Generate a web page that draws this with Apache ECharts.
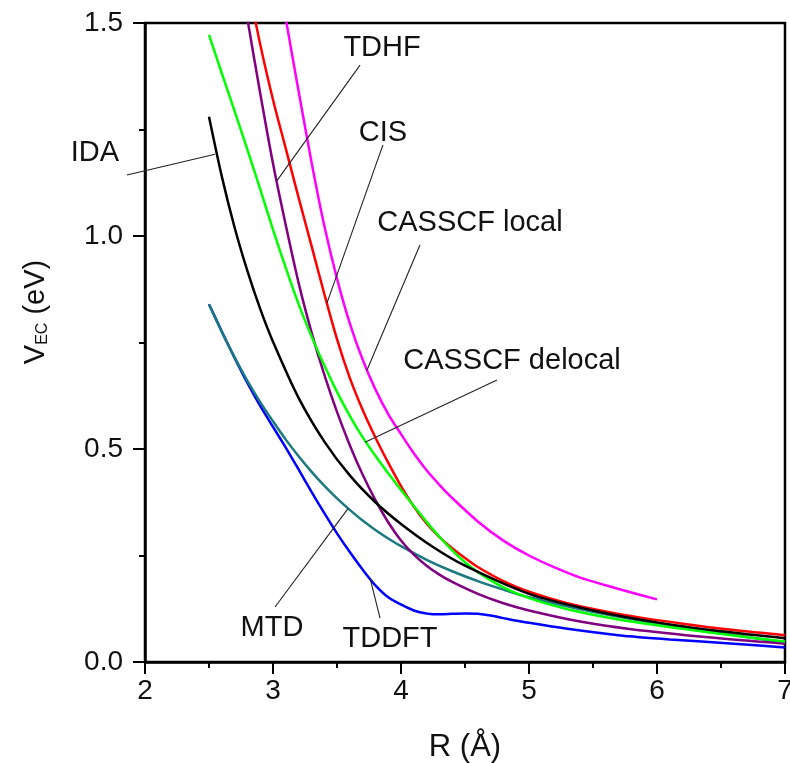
<!DOCTYPE html>
<html>
<head>
<meta charset="utf-8">
<script src="https://cdn.jsdelivr.net/npm/echarts@6/dist/echarts.min.js"></script>
<style>
  html, body { margin: 0; padding: 0; background: #fff; }
  #chart { width: 790px; height: 763px; }
</style>
</head>
<body>
<div id="chart"></div>
<script>
// ---- data (R in Å, V_EC in eV) ----
const xRange = [2, 7];
const yRange = [0, 1.5];

const IDA = [[2.5,1.28],[2.6,1.14],[2.7,1.02],[2.8,0.918],[2.9,0.829],[3.0,0.752],[3.2,0.62],[3.4,0.518],[3.6,0.438],[3.8,0.375],[4.0,0.324],[4.25,0.27],[4.5,0.226],[5.0,0.16],[5.5,0.121],[6.0,0.093],[6.5,0.072],[7.0,0.056]];
const TDHF = [[2.7,1.69],[2.8,1.51],[2.9,1.335],[3.0,1.17],[3.1,1.025],[3.2,0.89],[3.3,0.775],[3.4,0.675],[3.5,0.587],[3.6,0.509],[3.7,0.44],[3.8,0.38],[3.9,0.328],[4.0,0.285],[4.1,0.252],[4.2,0.226],[4.3,0.205],[4.4,0.188],[4.6,0.16],[4.8,0.138],[5.0,0.121],[5.4,0.095],[5.8,0.077],[6.4,0.058],[7.0,0.043]];
const CIS = [[2.7,1.76],[2.8,1.6],[2.9,1.45],[3.0,1.32],[3.1,1.205],[3.2,1.09],[3.3,0.978],[3.4,0.865],[3.5,0.758],[3.6,0.667],[3.7,0.592],[3.8,0.527],[3.9,0.468],[4.0,0.413],[4.1,0.365],[4.2,0.325],[4.3,0.293],[4.4,0.267],[4.5,0.244],[4.6,0.223],[4.8,0.19],[5.0,0.165],[5.3,0.138],[5.7,0.113],[6.2,0.09],[6.6,0.075],[7.0,0.063]];
const CASSCF_local = [[3.0,1.69],[3.1,1.51],[3.2,1.34],[3.3,1.175],[3.4,1.025],[3.5,0.9],[3.6,0.795],[3.7,0.71],[3.8,0.64],[3.9,0.582],[4.0,0.535],[4.1,0.49],[4.2,0.45],[4.3,0.416],[4.4,0.385],[4.6,0.33],[4.8,0.285],[5.0,0.25],[5.2,0.222],[5.4,0.198],[5.6,0.18],[5.8,0.163],[6.0,0.147]];
const CASSCF_delocal = [[2.5,1.472],[2.6,1.382],[2.7,1.293],[2.8,1.203],[2.9,1.11],[3.0,1.015],[3.1,0.925],[3.2,0.84],[3.3,0.765],[3.4,0.697],[3.5,0.634],[3.6,0.578],[3.7,0.528],[3.8,0.484],[3.9,0.443],[4.0,0.404],[4.1,0.366],[4.2,0.329],[4.3,0.294],[4.4,0.262],[4.5,0.234],[4.6,0.211],[4.8,0.175],[5.0,0.15],[5.3,0.124],[5.7,0.10],[6.2,0.078],[6.6,0.062],[7.0,0.048]];
const MTD = [[2.5,0.84],[2.6,0.775],[2.7,0.715],[2.8,0.66],[2.9,0.61],[3.0,0.565],[3.1,0.522],[3.2,0.483],[3.3,0.447],[3.4,0.414],[3.5,0.384],[3.6,0.357],[3.7,0.332],[3.8,0.31],[3.9,0.29],[4.0,0.272],[4.2,0.24],[4.4,0.213],[4.6,0.19],[4.8,0.17],[5.0,0.152],[5.4,0.124],[5.8,0.101],[6.4,0.072],[7.0,0.046]];
const TDDFT = [[2.5,0.84],[2.6,0.776],[2.7,0.714],[2.8,0.655],[2.9,0.601],[3.0,0.552],[3.1,0.503],[3.2,0.452],[3.3,0.4],[3.4,0.35],[3.5,0.302],[3.6,0.258],[3.7,0.217],[3.8,0.18],[3.9,0.152],[4.0,0.135],[4.1,0.121],[4.2,0.114],[4.3,0.112],[4.4,0.113],[4.5,0.114],[4.6,0.113],[4.7,0.109],[4.8,0.103],[5.0,0.092],[5.3,0.078],[5.7,0.063],[6.1,0.053],[6.6,0.043],[7.0,0.034]];

// annotation labels: text, label centre, leader start, leader end (data coords)
const labelNames = ['IDA','TDHF','CIS','CASSCF local','CASSCF delocal','MTD','TDDFT'];
const labelAt    = [[1.609,1.195],[3.852,1.441],[3.859,1.242],[4.539,1.031],[4.867,0.707],[2.992,0.080],[3.914,0.054]];
const leaderFrom = [[1.859,1.143],[3.68,1.401],[3.859,1.214],[4.148,0.979],[4.75,0.662],[3.016,0.129],[3.836,0.103]];
const leaderTo   = [[2.547,1.192],[3.031,1.13],[3.422,0.843],[3.734,0.685],[3.719,0.516],[3.586,0.36],[3.758,0.197]];

const FONT = '"Liberation Sans", Arial, sans-serif';

const seriesDefs = [
  { name: 'TDDFT', data: TDDFT, color: '#0000ff' },
  { name: 'MTD', data: MTD, color: '#1a7a80' },
  { name: 'TDHF', data: TDHF, color: '#800080' },
  { name: 'CASSCF local', data: CASSCF_local, color: '#ff00ff' },
  { name: 'CIS', data: CIS, color: '#ff0000' },
  { name: 'CASSCF delocal', data: CASSCF_delocal, color: '#00ff00' },
  { name: 'IDA', data: IDA, color: '#000000' }
];

const chart = echarts.init(document.getElementById('chart'), null, { renderer: 'canvas' });

const option = {
  animation: false,
  backgroundColor: '#fff',
  grid: {
    left: 145, right: 5, top: 23, bottom: 101, containLabel: false, outerBoundsMode: 'none',
    show: true, borderColor: '#000', borderWidth: 2.5, backgroundColor: 'transparent'
  },
  xAxis: {
    type: 'value', min: xRange[0], max: xRange[1], interval: 1,
    name: 'R (Å)', nameLocation: 'middle', nameGap: 70,
    nameTextStyle: { fontFamily: FONT, fontSize: 31, color: '#111' },
    axisLine: { show: true, onZero: false, lineStyle: { color: '#000', width: 2.5 } },
    axisTick: { show: true, inside: false, length: 12, lineStyle: { color: '#000', width: 2 } },
    minorTick: { show: true, splitNumber: 2, length: 6, lineStyle: { color: '#000', width: 2 } },
    axisLabel: { fontFamily: FONT, fontSize: 28, color: '#111', margin: 15 },
    splitLine: { show: false }
  },
  yAxis: {
    type: 'value', min: yRange[0], max: yRange[1], interval: 0.5,
    axisLine: { show: true, onZero: false, lineStyle: { color: '#000', width: 2.5 } },
    axisTick: { show: true, inside: false, length: 12, lineStyle: { color: '#000', width: 2 } },
    minorTick: { show: true, splitNumber: 2, length: 6, lineStyle: { color: '#000', width: 2 } },
    axisLabel: { fontFamily: FONT, fontSize: 28, color: '#111', margin: 22, formatter: v => v.toFixed(1) },
    splitLine: { show: false }
  },
  series: seriesDefs.map(s => ({
    name: s.name, type: 'line', data: s.data,
    smooth: 0.3, showSymbol: false, symbol: 'none', clip: true,
    lineStyle: { color: s.color, width: 2.5 },
    itemStyle: { color: s.color }
  }))
};

chart.setOption(option);

function drawAnnotations() {
  const g = [];
  for (let i = 0; i < labelNames.length; i++) {
    const p = chart.convertToPixel({ gridIndex: 0 }, labelAt[i]);
    const a = chart.convertToPixel({ gridIndex: 0 }, leaderFrom[i]);
    const b = chart.convertToPixel({ gridIndex: 0 }, leaderTo[i]);
    g.push({
      type: 'line', silent: true, z: 10,
      shape: { x1: a[0], y1: a[1], x2: b[0], y2: b[1] },
      style: { stroke: '#222', lineWidth: 1.1 }
    });
    g.push({
      type: 'text', silent: true, z: 10, x: p[0], y: p[1],
      style: { text: labelNames[i], fontFamily: FONT, fontSize: 29, fill: '#111', align: 'center', verticalAlign: 'middle' }
    });
  }
  // y-axis title with subscript
  g.push({
    type: 'text', silent: true, z: 10, x: 36, y: 312, rotation: Math.PI / 2,
    style: {
      text: '{v|V}{s|EC}{v| (eV)}', align: 'center', verticalAlign: 'middle', fill: '#111',
      rich: {
        v: { fontFamily: FONT, fontSize: 29, fill: '#111' },
        s: { fontFamily: FONT, fontSize: 16, fill: '#111', verticalAlign: 'bottom', padding: [11, 0, 0, 0] }
      }
    }
  });
  chart.setOption({ graphic: g });
}
drawAnnotations();
</script>
</body>
</html>
